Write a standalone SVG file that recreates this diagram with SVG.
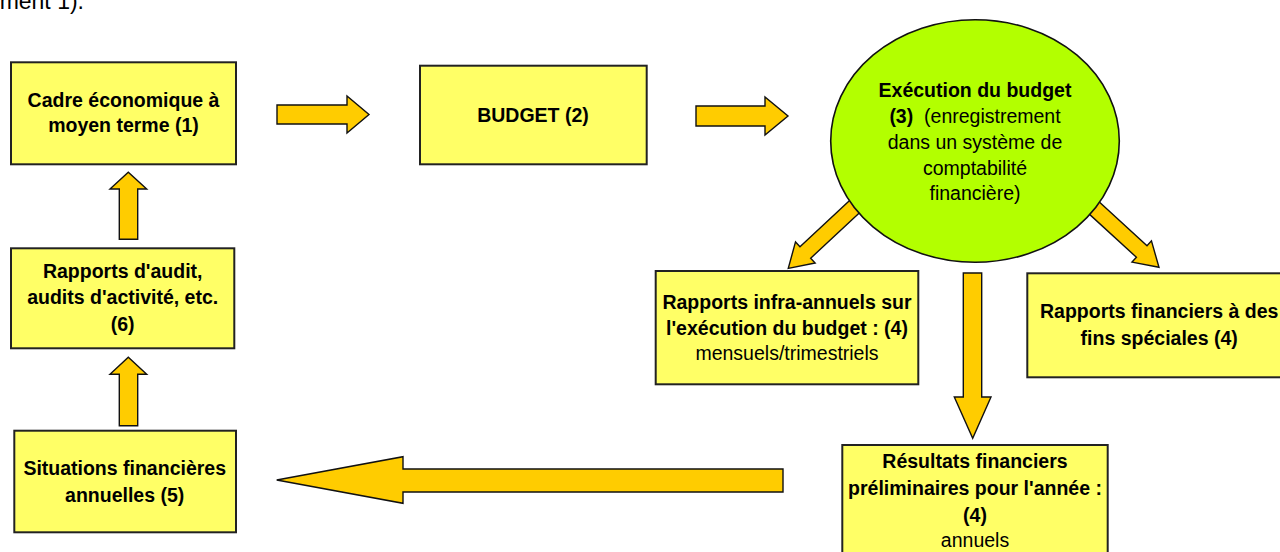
<svg xmlns="http://www.w3.org/2000/svg" width="1280" height="552" viewBox="0 0 1280 552">
<style>
.box{fill:#FFFF66;stroke:#222;stroke-width:2}
.arr{fill:#FFCC00;stroke:#111;stroke-width:1.4;stroke-linejoin:miter}
.t{font-family:"Liberation Sans",Arial,sans-serif;font-size:19.5px;fill:#000;text-anchor:middle}
.b{font-weight:bold}
</style>
<rect width="1280" height="552" fill="#fff"/>
<text x="84" y="9" font-family="Liberation Sans, Arial, sans-serif" font-size="23" text-anchor="end" fill="#000">ment 1).</text>

<g id="connectors">
  <path class="arr" d="M277,105 H347 V96 L369,114.5 L347,133 V124 H277 Z"/>
  <path class="arr" d="M696,106 H765 V97 L788,116 L765,135 V126 H696 Z"/>
  <path class="arr" transform="translate(856.85,204.5) rotate(137.05)" d="M0,-7.85 H70.4 V-14.4 L93.7,0 L70.4,14.4 V7.85 H0 Z"/>
  <path class="arr" transform="translate(1089.65,203.8) rotate(42.48)" d="M0,-7.85 H70.6 V-14.4 L94,0 L70.6,14.4 V7.85 H0 Z"/>
  <path class="arr" d="M963.3,273 H981.7 V397 H991 L972.7,438.3 L954.3,397 H963.3 Z"/>
  <path class="arr" d="M783,469 V492 H403 V503.3 L276.7,480 L403,456.7 V469 Z"/>
  <path class="arr" d="M119.3,239.3 V189 H110 L128.3,172.3 L146.7,189 H137.7 V239.3 Z"/>
  <path class="arr" d="M119.3,425.7 V374.3 H110 L128.3,357.3 L146.7,374.3 H137.7 V425.7 Z"/>
</g>

<g id="node1">
  <rect class="box" x="11" y="62.3" width="225" height="102"/>
  <text class="t b" x="123.5" y="107">Cadre économique à</text>
  <text class="t b" x="123.5" y="131.7">moyen terme (1)</text>
</g>

<g id="node2">
  <rect class="box" x="420" y="65.7" width="226.7" height="98.6"/>
  <text class="t b" x="533" y="122.3">BUDGET (2)</text>
</g>

<g id="node3">
  <ellipse cx="975" cy="141" rx="144.3" ry="121.3" fill="#B3FF00" stroke="#111" stroke-width="1.6"/>
  <text class="t b" x="975" y="97.3">Exécution du budget</text>
  <text class="t" x="975" y="123"><tspan class="b">(3)</tspan>&#160;&#160;(enregistrement</text>
  <text class="t" x="975" y="149">dans un système de</text>
  <text class="t" x="975" y="174.5">comptabilité</text>
  <text class="t" x="975" y="200">financière)</text>
</g>

<g id="node4a">
  <rect class="box" x="655.7" y="271" width="262.6" height="113.3"/>
  <text class="t b" x="787" y="309.3">Rapports infra-annuels sur</text>
  <text class="t b" x="787" y="335">l'exécution du budget : (4)</text>
  <text class="t" x="787" y="360">mensuels/trimestriels</text>
</g>

<g id="node4b">
  <rect class="box" x="1027.3" y="273.3" width="270" height="104"/>
  <text class="t b" x="1159.2" y="318.3">Rapports financiers à des</text>
  <text class="t b" x="1159.2" y="345">fins spéciales (4)</text>
</g>

<g id="node4c">
  <rect class="box" x="842.3" y="445" width="265.4" height="120"/>
  <text class="t b" x="975" y="468.3">Résultats financiers</text>
  <text class="t b" x="975" y="495">préliminaires pour l'année :</text>
  <text class="t b" x="975" y="521.7">(4)</text>
  <text class="t" x="975" y="546.7">annuels</text>
</g>

<g id="node5">
  <rect class="box" x="14.3" y="430.7" width="221.7" height="101.6"/>
  <text class="t b" x="124.7" y="475">Situations financières</text>
  <text class="t b" x="124.7" y="501.7">annuelles (5)</text>
</g>

<g id="node6">
  <rect class="box" x="11" y="248.3" width="223.3" height="100"/>
  <text class="t b" x="122.7" y="278.3">Rapports d'audit,</text>
  <text class="t b" x="122.7" y="304.3">audits d'activité, etc.</text>
  <text class="t b" x="122.7" y="330.5">(6)</text>
</g>
</svg>
